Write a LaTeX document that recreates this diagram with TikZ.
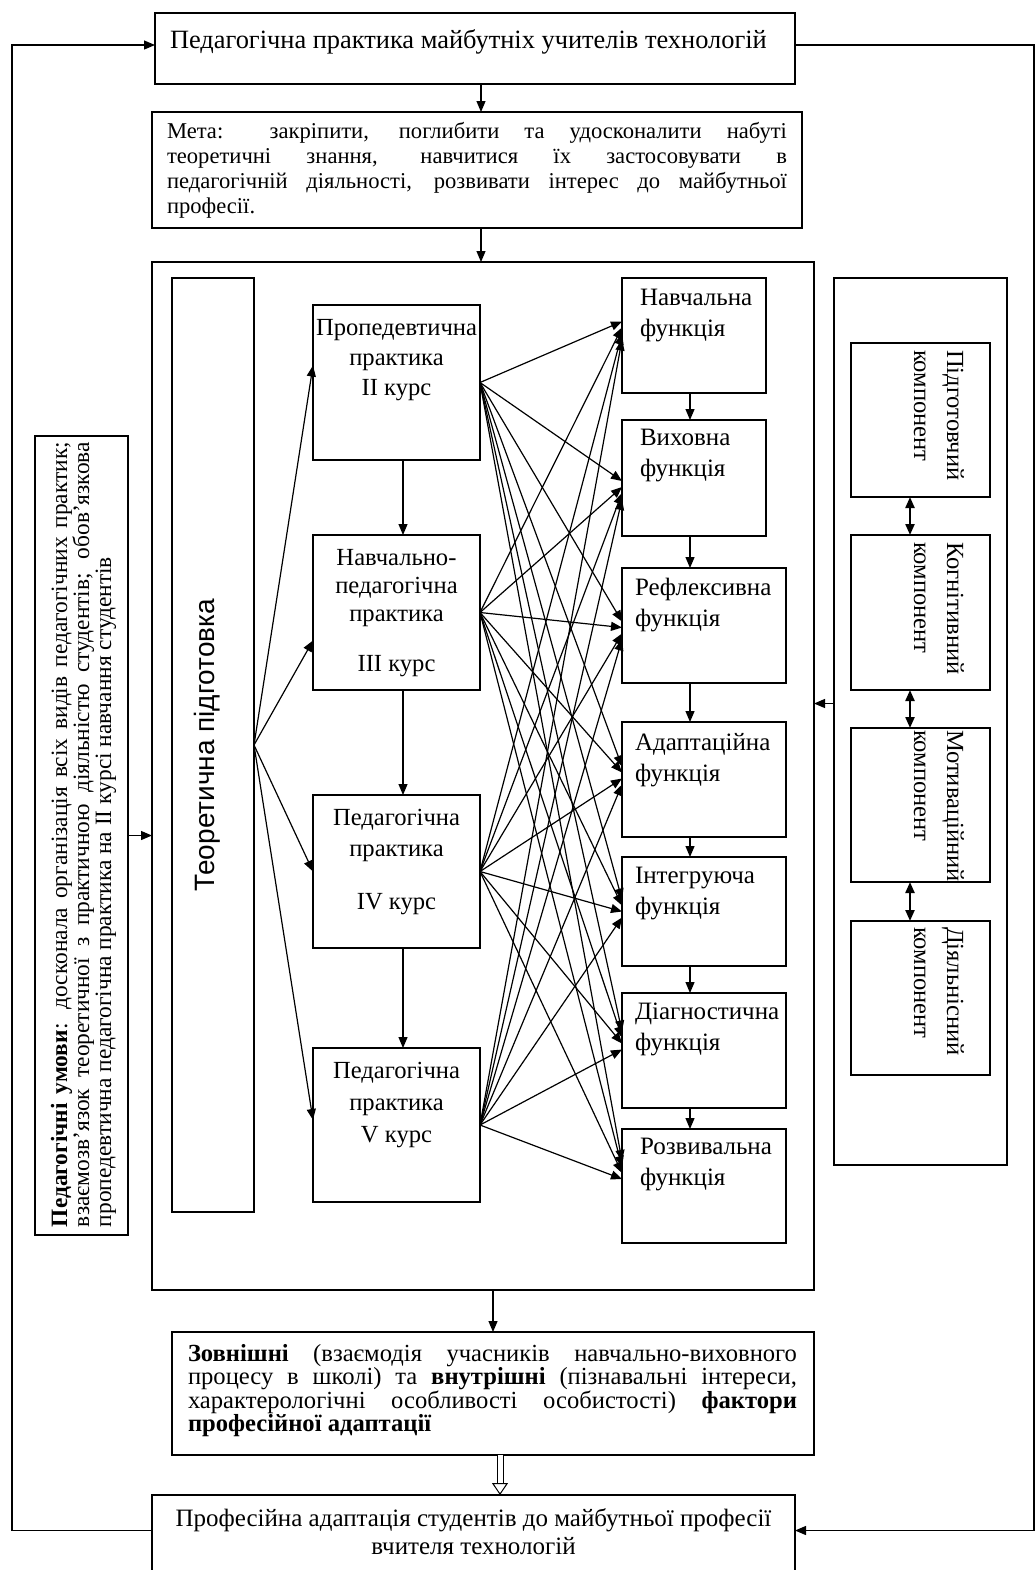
\documentclass[tikz,border=0pt]{standalone}
\usepackage{fontspec}
\setmainfont{Liberation Serif}
\setsansfont{Liberation Sans}
\usepackage{graphicx}
\usetikzlibrary{arrows.meta}

\newcommand{\inbox}[4]{\parbox[c][#2][t]{#1}{\vspace*{#3}#4}}
\newcommand{\fsize}[2]{\fontsize{#1}{#2}\selectfont}

\tikzset{
	box/.style = {draw, line width = 0.8pt, anchor = north west, inner sep = 0pt, outer sep = 0pt},
	arr/.style = {->, line width = 0.6pt},
	both/.style = {<->, line width = 1.1pt},
	hollow/.style = {double, double distance = 2.5pt, line width = 0.5pt, -{Triangle[open, length = 6pt, width = 8pt]}},
}

\begin{document}
\begin{tikzpicture}[x = 0.5pt, y = -0.5pt, >={Triangle[length = 5.5pt, width = 4.5pt]}]
\useasboundingbox (0,0) rectangle (1036,1570);

% top part
\node[box] (title) at (155, 13) {\inbox{320pt}{35.5pt}{8.5pt}{\fsize{13.2}{16}\leftskip=7.5pt Педагогічна практика майбутніх учителів технологій}};
\node[box] (goal) at (152, 112) {\inbox{325pt}{58pt}{5pt}{\fsize{11.3}{12.5}\leftskip=7.5pt \rightskip=7.5pt Мета: закріпити, поглибити та удосконалити набуті\linebreak теоретичні знання, навчитися їх застосовувати в\linebreak педагогічній діяльності, розвивати інтерес до майбутньої\linebreak професії.}};

% middle frame
\node[box, minimum width = 331pt, minimum height = 514pt] (frame) at (152, 262) {};
\node[box, minimum width = 41pt, minimum height = 467pt] (theory) at (172, 278) {\hspace*{-6pt}\rotatebox{90}{\fsize{14}{16}\sffamily Теоретична підготовка}};

\node[box] (p1) at (313, 305) {\inbox{83.5pt}{77.5pt}{7pt}{\centering\fsize{12.3}{15}Пропедевтична\\практика\\II курс}};
\node[box] (p2) at (313, 535) {\inbox{83.5pt}{77.5pt}{7pt}{\centering\fsize{12.3}{14}Навчально-\\педагогічна\\практика\\[11pt]III курс}};
\node[box] (p3) at (313, 795) {\inbox{83.5pt}{76.5pt}{7pt}{\centering\fsize{12.3}{15.5}Педагогічна\\практика\\[11pt]IV курс}};
\node[box] (p4) at (313, 1048) {\inbox{83.5pt}{77pt}{7pt}{\centering\fsize{12.3}{16}Педагогічна\\практика\\V курс}};

\node[box] (f1) at (622, 278) {\inbox{72pt}{57.5pt}{5.5pt}{\fsize{12.5}{15.5}\leftskip=9pt Навчальна\\функція}};
\node[box] (f2) at (622, 420) {\inbox{72pt}{58pt}{4.5pt}{\fsize{12.5}{15.5}\leftskip=9pt Виховна\\функція}};
\node[box] (f3) at (622, 568) {\inbox{82pt}{57.5pt}{5pt}{\fsize{12.5}{15.5}\leftskip=6.5pt Рефлексивна\\функція}};
\node[box] (f4) at (622, 722) {\inbox{82pt}{57.5pt}{5.5pt}{\fsize{12.5}{15.5}\leftskip=6.5pt Адаптаційна\\функція}};
\node[box] (f5) at (622, 857) {\inbox{82pt}{54.5pt}{5pt}{\fsize{12.5}{15.5}\leftskip=6.5pt Інтегруюча\\функція}};
\node[box] (f6) at (622, 993) {\inbox{82pt}{57.5pt}{5pt}{\fsize{12.5}{15.5}\leftskip=6.5pt Діагностична\\функція}};
\node[box] (f7) at (622, 1129) {\inbox{82pt}{57pt}{4.5pt}{\fsize{12.5}{15.5}\leftskip=9pt Розвивальна\\функція}};

% right column
\node[box, minimum width = 86.5pt, minimum height = 443.5pt] (comps) at (834, 278) {};
\node[box] (c1) at (851, 343) {\rotatebox{-90}{\inbox{77pt}{69.5pt}{13pt}{\fsize{12.3}{16.5}\leftskip=3.5pt Підготовчий\\компонент}}};
\node[box] (c2) at (851, 535) {\rotatebox{-90}{\inbox{77.5pt}{69.5pt}{13pt}{\fsize{12.3}{16.5}\leftskip=3.5pt Когнітивний\\компонент}}};
\node[box] (c3) at (851, 728) {\rotatebox{-90}{\inbox{77pt}{69.5pt}{13pt}{\fsize{12.3}{16.5}\leftskip=1pt Мотиваційний\\компонент}}};
\node[box] (c4) at (851, 921) {\rotatebox{-90}{\inbox{77pt}{69.5pt}{13pt}{\fsize{12.3}{16.5}\leftskip=3pt Діяльнісний\\компонент}}};

% left column
\node[box] (cond) at (35, 436) {\rotatebox{90}{\inbox{399.5pt}{46.5pt}{8pt}{\fsize{11.7}{11}\leftskip=4pt \rightskip=3pt \textbf{Педагогічні умови}: досконала організація всіх видів педагогічних практик;\linebreak взаємозв’язок теоретичної з практичною діяльністю студентів; обов’язкова\linebreak пропедевтична педагогічна практика на II курсі навчання студентів}}};

% bottom part
\node[box] (factors) at (172, 1332) {\inbox{321pt}{61.5pt}{6pt}{\fsize{12.3}{11.75}\leftskip=8pt \rightskip=8.5pt \textbf{Зовнішні} (взаємодія учасників навчально-виховного\linebreak процесу в школі) та \textbf{внутрішні} (пізнавальні інтереси,\linebreak характерологічні особливості особистості) \textbf{фактори}\linebreak \textbf{професійної адаптації}}};
\node[box] (final) at (152, 1495) {\inbox{321.5pt}{42.5pt}{7pt}{\centering\fsize{12.5}{14}Професійна адаптація студентів до майбутньої професії\\вчителя технологій}};

\coordinate (chain) at (690, 0);
\coordinate (cx) at (910, 0);
\coordinate (left) at (12, 0);
\coordinate (right) at (1034, 0);

% connectors
\draw[arr] ([xshift = 3pt]title.south) -- ([xshift = 3pt]title.south |- goal.north);
\draw[arr] ([xshift = 2pt]goal.south) -- ([xshift = 2pt]goal.south |- frame.north);
\draw[arr] (frame.south -| factors.north) -- (factors.north);
\draw[hollow] ([xshift = 3.5pt]factors.south) -- ([xshift = 3.5pt]factors.south |- final.north);

\foreach \p/\s in {p1/8.5, p2/-14, p3/0, p4/2.5}
	\draw[arr] (theory.east) -- ([yshift = \s pt]\p.west);

\foreach \a/\b in {p1/p2, p2/p3, p3/p4}
	\draw[arr] ([xshift = 3.25pt]\a.south) -- ([xshift = 3.25pt]\b.north);

\foreach \a/\b in {f1/f2, f2/f3, f3/f4, f4/f5, f5/f6, f6/f7}
	\draw[arr] (\a.south -| chain) -- (\b.north -| chain);

\foreach \p [count = \i] in {p1, p2, p3, p4}
	\foreach \f/\d in {f1/-5, f2/12, f3/5, f4/-4, f5/-3, f6/-10, f7/-16}
		\draw[arr] (\p.east) -- ([yshift = {-(\d + 6*\i - 15)*0.5pt}]\f.west);

\foreach \a/\b in {c1/c2, c2/c3, c3/c4}
	\draw[both] (\a.south -| cx) -- (\b.north -| cx);

\draw[arr] ([yshift = 9pt]comps.west) -- ([yshift = 9pt]comps.west -| frame.east);
\draw[arr] (cond.east) -- (cond.east -| frame.west);

\draw[arr] ([yshift = 3.5pt]final.west) -- ([yshift = 3.5pt]final.west -| left) |- ([yshift = 1.75pt]title.west);
\draw[arr] ([yshift = 1.75pt]title.east) -- ([yshift = 1.75pt]title.east -| right) |- ([yshift = 3.5pt]final.east);

\end{tikzpicture}
\end{document}
